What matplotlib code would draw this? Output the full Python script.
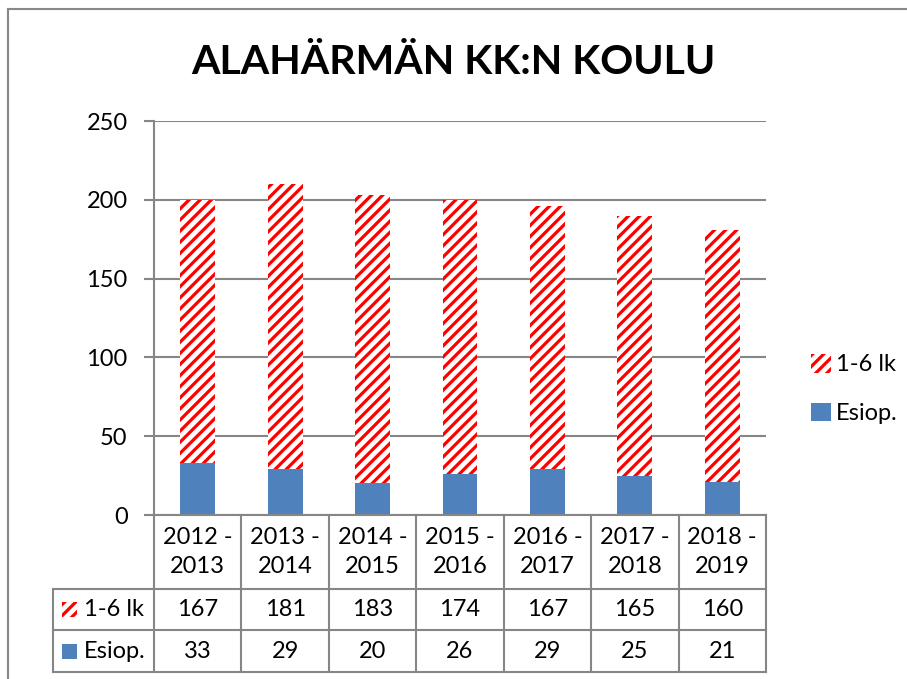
import matplotlib.pyplot as plt
from matplotlib.patches import Rectangle
from matplotlib.lines import Line2D
import matplotlib.transforms as mtransforms

# data
years = ["2012 -\n2013", "2013 -\n2014", "2014 -\n2015", "2015 -\n2016",
         "2016 -\n2017", "2017 -\n2018", "2018 -\n2019"]
lk_1_6 = [167, 181, 183, 174, 167, 165, 160]
esiop = [33, 29, 20, 26, 29, 25, 21]
series_names = ["1-6 lk", "Esiop."]

plt.rcParams['font.family'] = ['Lato', 'DejaVu Sans']
plt.rcParams['hatch.linewidth'] = 2.3
plt.rcParams['hatch.color'] = '#FF0000'

blue = '#4F81BD'
red = '#FF0000'
grid_col = '#868686'
fs = 17
hatch = '///'

fig = plt.figure(figsize=(9.07, 6.79), dpi=100)
W, H = 907, 679

def px(x, y):
    return x / W, 1 - y / H

ax = fig.add_axes([154 / W, 1 - 515 / H, (766 - 154) / W, (515 - 121) / H])

x = list(range(len(years)))
ax.bar(x, esiop, width=0.4, color=blue, zorder=3)
ax.bar(x, lk_1_6, width=0.4, bottom=esiop, color='white', edgecolor=red,
       hatch=hatch, linewidth=0, zorder=3)

ax.set_xlim(-0.5, len(years) - 0.5)
ax.set_ylim(0, 250)
ax.set_yticks(range(0, 251, 50))
ax.tick_params(axis='y', labelsize=fs, length=7, width=1.5, color=grid_col, pad=12)
ax.set_xticks([])
ax.yaxis.grid(True, color=grid_col, linewidth=1.5, zorder=0)
for s in ['top', 'right']:
    ax.spines[s].set_visible(False)
ax.spines['left'].set_color(grid_col)
ax.spines['left'].set_linewidth(1.5)
ax.spines['bottom'].set_color(grid_col)
ax.spines['bottom'].set_linewidth(1.5)
ax.spines['bottom'].set_zorder(4)

# data table under the axis
trans = mtransforms.blended_transform_factory(ax.transData, ax.transAxes)
ah = 515 - 121
rows_y = [0, -(589 - 515) / ah, -(630 - 515) / ah, -(672 - 515) / ah]
x_lab = -0.5 - (154 - 53) / ((766 - 154) / len(years))
lkw = dict(color=grid_col, linewidth=1.5, clip_on=False, transform=trans)

for i in range(len(years) + 1):
    xb = i - 0.5
    ax.add_line(Line2D([xb, xb], [0, rows_y[3]], **lkw))
ax.add_line(Line2D([x_lab, x_lab], [rows_y[1], rows_y[3]], **lkw))
for r in rows_y[1:]:
    ax.add_line(Line2D([x_lab, len(years) - 0.5], [r, r], **lkw))

for i, yr in enumerate(years):
    ax.text(i, (rows_y[0] + rows_y[1]) / 2, yr, transform=trans, ha='center',
            va='center', fontsize=fs, linespacing=1.45)
    ax.text(i, (rows_y[1] + rows_y[2]) / 2, str(lk_1_6[i]), transform=trans,
            ha='center', va='center', fontsize=fs)
    ax.text(i, (rows_y[2] + rows_y[3]) / 2, str(esiop[i]), transform=trans,
            ha='center', va='center', fontsize=fs)

# row labels with small keys
for r, name, style in [(1, series_names[0], 'hatch'), (2, series_names[1], 'solid')]:
    yc = (rows_y[r] + rows_y[r + 1]) / 2
    ax.text(x_lab + 0.35, yc, name, transform=trans, ha='left', va='center', fontsize=fs)
    kx0, ky0 = px(62, 0)
    yc_fig = fig.transFigure.inverted().transform(trans.transform((0, yc)))[1]
    kw, kh = 15 / W, 15 / H
    if style == 'hatch':
        key = Rectangle((kx0, yc_fig - kh / 2), kw, kh, transform=fig.transFigure,
                        facecolor='white', edgecolor=red, hatch=hatch, linewidth=0)
    else:
        key = Rectangle((kx0, yc_fig - kh / 2), kw, kh, transform=fig.transFigure,
                        facecolor=blue, linewidth=0)
    fig.patches.append(key)

# legend on the right
handles = [Rectangle((0, 0), 1, 1, facecolor='white', edgecolor=red, hatch=hatch, linewidth=0),
           Rectangle((0, 0), 1, 1, facecolor=blue, linewidth=0)]
fig.legend(handles, series_names, loc='center left', bbox_to_anchor=px(790, 389),
           frameon=False, fontsize=fs, handlelength=0.85, handleheight=0.85,
           handletextpad=0.2, labelspacing=1.15)

fig.text(0.5, 1 - 62 / H, "ALAHÄRMÄN KK:N KOULU", ha='center', va='center',
         fontsize=29.5, fontweight='bold')

# outer chart border (left and top visible)
fig.add_artist(Line2D([8 / W, 8 / W], [0, 1 - 9 / H], color='#888888', linewidth=1.5,
                      transform=fig.transFigure))
fig.add_artist(Line2D([8 / W, 1], [1 - 9 / H, 1 - 9 / H], color='#888888', linewidth=1.5,
                      transform=fig.transFigure))

fig.savefig("out.png", dpi=100)
